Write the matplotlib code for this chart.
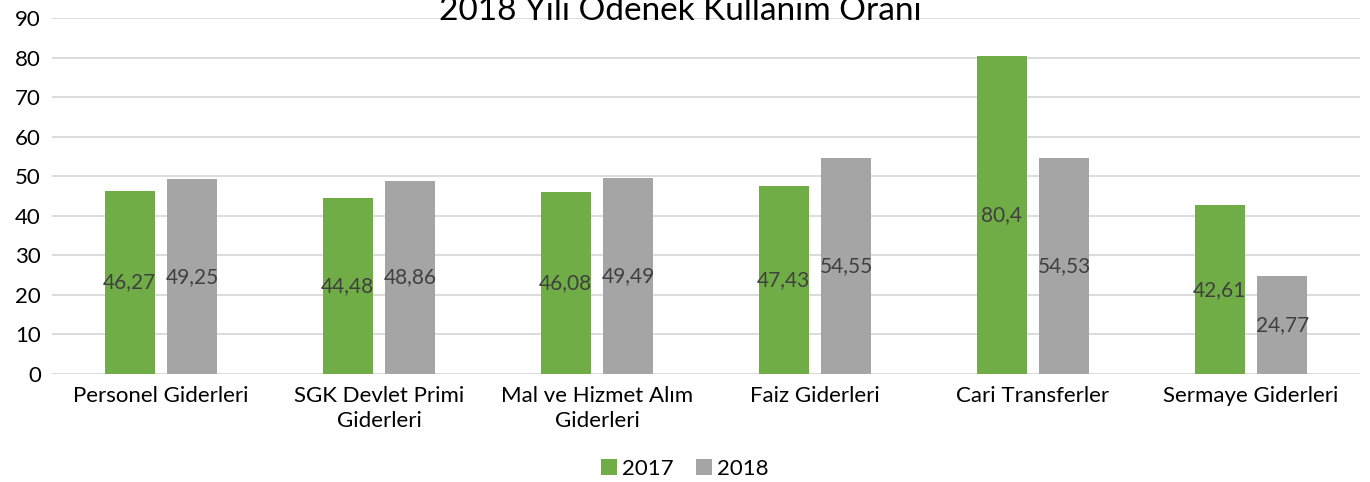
import numpy as np
import matplotlib.pyplot as plt

# data
categories = ["Personel Giderleri", "SGK Devlet Primi\nGiderleri", "Mal ve Hizmet Alım\nGiderleri",
              "Faiz Giderleri", "Cari Transferler", "Sermaye Giderleri"]
values_2017 = [46.27, 44.48, 46.08, 47.43, 80.4, 42.61]
values_2018 = [49.25, 48.86, 49.49, 54.55, 54.53, 24.77]
series_names = ["2017", "2018"]
yticks = [0, 10, 20, 30, 40, 50, 60, 70, 80, 90]

plt.rcParams['font.family'] = ['Lato', 'DejaVu Sans']

fig = plt.figure(figsize=(13.7, 4.82), dpi=100)
ax = fig.add_axes([52 / 1370, 1 - 374 / 482, 1308 / 1370, 356 / 482])

x = np.arange(len(categories))
w = 0.23
off = 0.143
b1 = ax.bar(x - off, values_2017, w, color="#70ad47", label=series_names[0], zorder=3)
b2 = ax.bar(x + off, values_2018, w, color="#a5a5a5", label=series_names[1], zorder=3)

# value labels in the middle of each bar
for bars, vals in [(b1, values_2017), (b2, values_2018)]:
    for r, v in zip(bars, vals):
        txt = ("%.2f" % v).rstrip("0").rstrip(".").replace(".", ",")
        ax.text(r.get_x() + r.get_width() / 2, v / 2, txt, ha="center", va="center",
                fontsize=15, color="#404040", zorder=4)

ax.set_xlim(-0.5, len(categories) - 0.5)
ax.set_ylim(0, 90)
ax.set_yticks(yticks)
ax.set_xticks(x)
ax.set_xticklabels(categories, fontsize=16, color="#000000", linespacing=1.3)
ax.tick_params(axis="y", labelsize=16, length=0, pad=8)
ax.tick_params(axis="x", length=0, pad=9)
ax.grid(axis="y", color="#d9d9d9", linewidth=1.3, zorder=0)
for s in ax.spines.values():
    s.set_visible(False)

# title sits partly above the top edge, as in the original
fig.text(680 / 1370, 1 - 11 / 482, "2018 Yılı Ödenek Kullanım Oranı", fontsize=24,
         ha="center", va="center")

fig.legend(loc="center", bbox_to_anchor=(685 / 1370, 1 - 469 / 482), ncol=2, frameon=False,
           fontsize=16, handlelength=0.7, handleheight=0.7, handletextpad=0.25, columnspacing=1.0)

fig.savefig("out.png", dpi=100)
